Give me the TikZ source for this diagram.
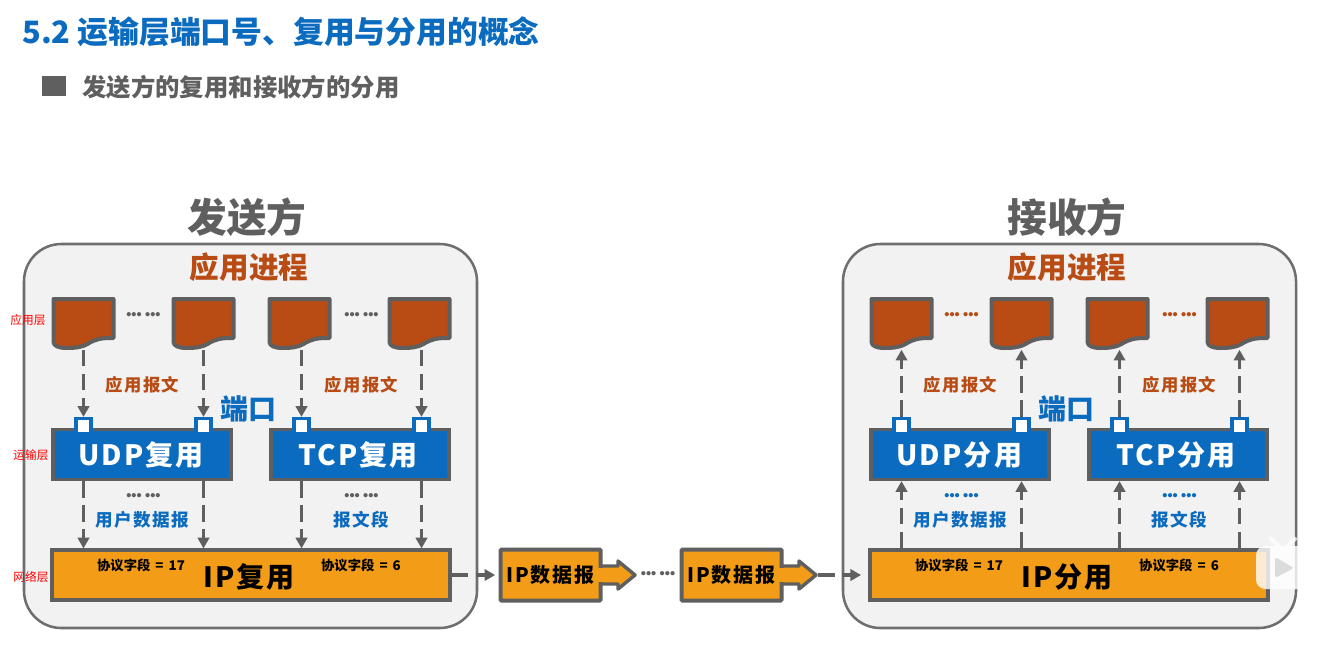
\documentclass[tikz,border=0pt]{standalone}
\usepackage{fontspec}
\usetikzlibrary{arrows.meta}
\newfontfamily\cjk{Noto Sans CJK SC}
\newfontfamily\cjkwide[LetterSpace=8]{Noto Sans CJK SC}
\newfontfamily\dotfont{Liberation Sans}
\newcommand{\fsz}[1]{\fontsize{#1}{#1}\selectfont}
\newcommand{\dotrow}{•••\hspace{2.6pt}•••}
\definecolor{grayline}{HTML}{5F5F5F}
\definecolor{panelline}{HTML}{6E6E6E}
\definecolor{panelbg}{HTML}{F2F2F2}
\definecolor{rust}{HTML}{B84C14}
\definecolor{blueb}{HTML}{0B6BBE}
\definecolor{orangeb}{HTML}{F39C17}
\tikzset{
  lab/.style={inner sep=0pt,font=\cjk\bfseries},
  panel/.style={draw=panelline,line width=1.9pt,fill=panelbg,rounded corners=28pt,minimum width=453*0.75pt,minimum height=384*0.75pt,inner sep=0pt},
  bluebox/.style={draw=grayline,line width=2.4pt,fill=blueb,minimum width=178*0.75pt,minimum height=50*0.75pt,inner sep=0pt},
  ipbox/.style={draw=grayline,line width=2.4pt,fill=orangeb,minimum width=398*0.75pt,minimum height=50*0.75pt,inner sep=0pt},
  dgbox/.style={draw=grayline,line width=3pt,fill=orangeb,minimum width=100*0.75pt,minimum height=51*0.75pt,inner sep=0pt,rounded corners=0.8pt},
  portbox/.style={draw=blueb,line width=2.4pt,fill=white,minimum width=15*0.75pt,minimum height=15*0.75pt,inner sep=0pt},
  docnode/.style={minimum width=62*0.75pt,minimum height=52*0.75pt,inner sep=0pt},
  docpath/.style={draw=grayline,fill=rust,line width=3pt,line join=round},
  flow/.style={draw=grayline,line width=2.7pt,dash pattern=on 12.5pt off 5.5pt,-{Triangle[length=8pt,width=8.5pt]}},
  dots/.style={inner sep=0pt,font=\dotfont\bfseries\fsz{11}},
}
% one application document: #1 name, #2 centre x
\newcommand{\appdoc}[2]{%
  \path[docpath] (#2-30,299) -- (#2+30,299) -- (#2+30,338)
    .. controls (#2+17,338) and (#2+12,339) .. (#2+4,344)
    .. controls (#2-3,348) and (#2-12,348) .. (#2-18,348)
    .. controls (#2-24,348) and (#2-30,346) .. (#2-30,342) -- cycle;
  \node[docnode] (#1) at (#2,323.5) {};
}
% one side of the figure
% #1 prefix, #2 verb, #3 colour of top dots, #4 colour of lower dots
\newcommand{\stackside}[4]{%
  \node[lab,text=rust,font=\cjk\bfseries\fsz{22.2}] (#1app) at (249,267.5) {应用进程};
  \appdoc{#1d1}{83.5}\appdoc{#1d2}{203.5}\appdoc{#1d3}{299.5}\appdoc{#1d4}{419.5}
  \node[dots,text=#3] (#1dota) at (143.5,316) {\dotrow};
  \node[dots,text=#3] (#1dotb) at (361.5,316) {\dotrow};
  \node[bluebox] (#1udp) at (142,454.5) {};
  \node[bluebox] (#1tcp) at (360,454.5) {};
  \node[lab,text=white,font=\cjkwide\bfseries\fsz{21}] (#1udpt) at (141,455) {UDP#2};
  \node[lab,text=white,font=\cjkwide\bfseries\fsz{21}] (#1tcpt) at (358,455) {TCP#2};
  \node[ipbox] (#1ip) at (251,575) {};
  \node[portbox] (#1p1) at (83.5,426) {};
  \node[portbox] (#1p2) at (203.5,426) {};
  \node[portbox] (#1p3) at (301.5,426) {};
  \node[portbox] (#1p4) at (421.5,426) {};
  \node[lab,text=rust,font=\cjkwide\bfseries\fsz{13}] (#1ma) at (142.5,384.5) {应用报文};
  \node[lab,text=rust,font=\cjkwide\bfseries\fsz{13}] (#1mb) at (361.5,384.5) {应用报文};
  \node[lab,text=blueb,font=\cjk\bfseries\fsz{21}] (#1port) at (248,408.5) {端口};
  \node[dots,text=#4] (#1dotc) at (143.5,497) {\dotrow};
  \node[dots,text=#4] (#1dotd) at (361.5,497) {\dotrow};
  \node[lab,text=blueb,font=\cjkwide\bfseries\fsz{13.2}] (#1ua) at (142.5,520) {用户数据报};
  \node[lab,text=blueb,font=\cjkwide\bfseries\fsz{13.2}] (#1ub) at (361,520) {报文段};
  \node[lab,font=\cjk\bfseries\fsz{10}] (#1fa) at (141,565) {协议字段\hspace{.38em}=\hspace{.38em}17};
  \node[lab,font=\cjk\bfseries\fsz{10}] (#1fb) at (361,565) {协议字段\hspace{.38em}=\hspace{.38em}6};
  \node[lab,font=\cjkwide\bfseries\fsz{21}] (#1ipt) at (249,577) {IP#2};
  \lnk{#1d1.south -| #1p1}{#1p1.north}
  \lnk{#1d2.south -| #1p2}{#1p2.north}
  \lnk{#1d3.south -| #1p3}{#1p3.north}
  \lnk{#1d4.south -| #1p4}{#1p4.north}
  \lnk{#1udp.south -| #1p1}{#1ip.north -| #1p1}
  \lnk{#1udp.south -| #1p2}{#1ip.north -| #1p2}
  \lnk{#1tcp.south -| #1p3}{#1ip.north -| #1p3}
  \lnk{#1tcp.south -| #1p4}{#1ip.north -| #1p4}
}
\begin{document}
\begin{tikzpicture}[x=0.75pt,y=-0.75pt]
\useasboundingbox (0,0) rectangle (1333,651);
\fill[white] (0,0) rectangle (1333,651);
% headings
\node[lab,anchor=west,text=blueb,font=\cjk\bfseries\fsz{23.1}] (title) at (22,32) {5.2 运输层端口号、复用与分用的概念};
\node[fill=grayline,minimum width=24*0.75pt,minimum height=20*0.75pt,inner sep=0pt] (bullet) at (54,86) {};
\node[lab,anchor=west,text=grayline,font=\cjk\bfseries\fsz{18.3}] (subtitle) at (82,87) {发送方的复用和接收方的分用};
\node[lab,text=grayline,font=\cjk\bfseries\fsz{29.8}] (sendt) at (247,217.5) {发送方};
\node[lab,text=grayline,font=\cjk\bfseries\fsz{29.8}] (recvt) at (1067,217.5) {接收方};
% panels
\node[panel] (sender) at (250.5,436) {};
\node[panel] (receiver) at (1069.5,436) {};
% sender
\newcommand{\lnk}[2]{\draw[flow] (#1) -- (#2);}
\stackside{s}{复用}{grayline}{grayline}
% receiver
\renewcommand{\lnk}[2]{\draw[flow] (#2) -- (#1);}
\begin{scope}[shift={(818,0)}]
\stackside{r}{分用}{rust}{blueb}
\end{scope}
% layer labels
\node[inner sep=0pt,text=red,font=\cjk\fsz{8.8}] (l1) at (28,320) {应用层};
\node[inner sep=0pt,text=red,font=\cjk\fsz{8.8}] (l2) at (31,455) {运输层};
\node[inner sep=0pt,text=red,font=\cjk\fsz{8.8}] (l3) at (31,577) {网络层};
% datagrams
\path[draw=grayline,fill=orangeb,line width=2.6pt,line join=round]
  (590,566) -- (618,566) -- (618,561) -- (635,575) -- (618,589) -- (618,584) -- (590,584) -- cycle;
\path[draw=grayline,fill=orangeb,line width=2.6pt,line join=round]
  (771,566) -- (799,566) -- (799,561) -- (816,575) -- (799,589) -- (799,584) -- (771,584) -- cycle;
\coordinate (tip) at (818,575);
\node[dgbox] (dg1) at (550.5,575) {};
\node[dgbox] (dg2) at (731.5,575) {};
\fill[orangeb] (598,568) rectangle (604,582);
\fill[orangeb] (779,568) rectangle (785,582);
\node[lab,font=\cjkwide\bfseries\fsz{15}] (dg1t) at (550.5,575) {IP数据报};
\node[lab,font=\cjkwide\bfseries\fsz{15}] (dg2t) at (731.5,575) {IP数据报};
\node[dots,text=grayline] (dotm) at (658,575) {\dotrow};
\draw[flow] (sip.east) -- ([xshift=-2.5pt]dg1.west);
\draw[flow] (tip) -- ([xshift=-5.5pt]rip.west);
% video logo
\draw[white,opacity=.75,line width=3pt,line cap=round] (1271,539) -- (1279,546);
\draw[white,opacity=.75,line width=3pt,line cap=round] (1295,539) -- (1287,546);
\fill[white,opacity=.8,rounded corners=7pt] (1256,546) rectangle (1309,589);
\fill[gray!30,opacity=.9,rounded corners=2pt] (1275,557) -- (1294,568) -- (1275,578) -- cycle;
\end{tikzpicture}
\end{document}
